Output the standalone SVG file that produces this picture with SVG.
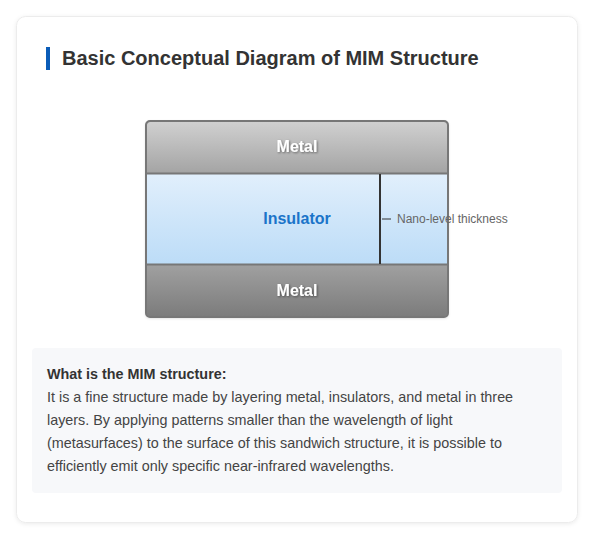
<svg xmlns="http://www.w3.org/2000/svg" width="594" height="541" viewBox="0 0 594 541">
<defs>
<linearGradient id="gMetalTop" x1="0" y1="0" x2="0" y2="1"><stop offset="0" stop-color="#d0d0d0"/><stop offset="1" stop-color="#a4a4a4"/></linearGradient>
<linearGradient id="gIns" x1="0" y1="0" x2="0" y2="1"><stop offset="0" stop-color="#e1effc"/><stop offset="1" stop-color="#bcdcf7"/></linearGradient>
<linearGradient id="gMetalBot" x1="0" y1="0" x2="0" y2="1"><stop offset="0" stop-color="#a0a0a0"/><stop offset="1" stop-color="#7c7c7c"/></linearGradient>
<filter id="cardShadow" x="-5%" y="-5%" width="110%" height="110%"><feDropShadow dx="0" dy="1" stdDeviation="2" flood-color="#000" flood-opacity="0.08"/></filter>
<filter id="boxShadow" x="-5%" y="-5%" width="110%" height="110%"><feDropShadow dx="0" dy="1" stdDeviation="1.5" flood-color="#000" flood-opacity="0.2"/></filter>
<filter id="txtShadow" x="-10%" y="-20%" width="120%" height="140%"><feDropShadow dx="1" dy="1" stdDeviation="0.8" flood-color="#000" flood-opacity="0.45"/></filter>
</defs>
<style>
.t{font-family:"Liberation Sans",Arial,sans-serif}
.title{font-size:20px;font-weight:bold;fill:#333}
.metal{font-size:16px;font-weight:bold;fill:#fff}
.ins{font-size:16px;font-weight:bold;fill:#1b74c9}
.note{font-size:12px;fill:#666}
.body{font-size:14.37px;fill:#444}
.bold{font-weight:bold;fill:#333}
</style>
<rect x="0" y="0" width="594" height="541" fill="#ffffff"/>
<rect x="16.5" y="16.5" width="561" height="506" rx="9" fill="#fff" stroke="#ececec" filter="url(#cardShadow)"/>
<g id="title">
<rect x="46" y="47" width="4" height="23" fill="#0a5cb8"/>
<text class="t title" x="62" y="65">Basic Conceptual Diagram of MIM Structure</text>
</g>
<g id="mim" filter="url(#boxShadow)">
<rect x="146" y="121" width="302" height="196" rx="4" fill="#888"/>
</g>
<g id="metal-top">
<path d="M150,122 H444 A3,3 0 0 1 447,125 V173 H147 V125 A3,3 0 0 1 150,122 Z" fill="url(#gMetalTop)"/>
<text class="t metal" x="297" y="152" text-anchor="middle" filter="url(#txtShadow)">Metal</text>
</g>
<g id="insulator">
<rect x="147" y="174" width="300" height="90" fill="url(#gIns)"/>
<text class="t ins" x="297" y="224" text-anchor="middle">Insulator</text>
</g>
<g id="metal-bottom">
<path d="M147,265 H447 V313 A3,3 0 0 1 444,316 H150 A3,3 0 0 1 147,313 Z" fill="url(#gMetalBot)"/>
<text class="t metal" x="297" y="296" text-anchor="middle" filter="url(#txtShadow)">Metal</text>
</g>
<g id="connectors">
<line x1="147" y1="173.5" x2="447" y2="173.5" stroke="#777" stroke-width="2"/>
<line x1="147" y1="264.5" x2="447" y2="264.5" stroke="#777" stroke-width="2"/>
<rect x="146" y="121" width="302" height="196" rx="4" fill="none" stroke="#777" stroke-width="2"/>
<line x1="380" y1="174" x2="380" y2="264" stroke="#333" stroke-width="2"/>
<line x1="382" y1="219" x2="391" y2="219" stroke="#333" stroke-width="1"/>
</g>
<g id="thickness-label">
<text class="t note" x="397" y="223">Nano-level thickness</text>
</g>
<g id="info">
<rect x="32" y="348" width="530" height="145" rx="4" fill="#f7f8fa"/>
<text class="t body bold" x="47" y="379">What is the MIM structure:</text>
<text class="t body" x="47" y="402">It is a fine structure made by layering metal, insulators, and metal in three</text>
<text class="t body" x="47" y="425">layers. By applying patterns smaller than the wavelength of light</text>
<text class="t body" x="47" y="448">(metasurfaces) to the surface of this sandwich structure, it is possible to</text>
<text class="t body" x="47" y="471">efficiently emit only specific near-infrared wavelengths.</text>
</g>
</svg>
